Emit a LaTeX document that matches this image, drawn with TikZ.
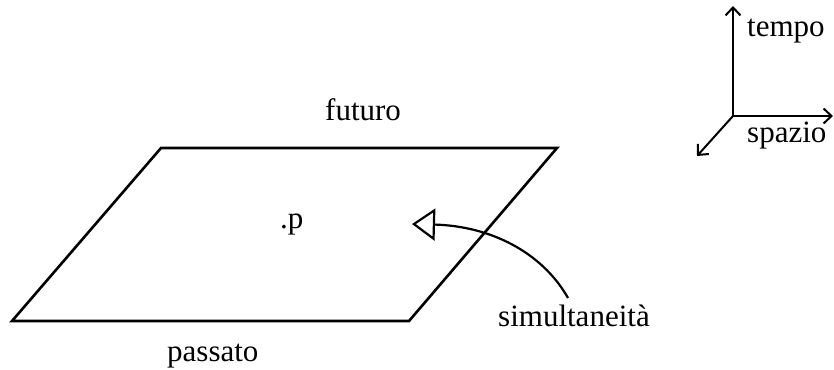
\documentclass[tikz,border=0pt]{standalone}
\usepackage{fontspec}
\setmainfont{Liberation Serif}
\usetikzlibrary{arrows.meta}
\begin{document}
\begin{tikzpicture}[x=1pt,y=-1pt,
  lbl/.style={inner sep=0pt,anchor=base west,font=\fontsize{31}{37}\selectfont},
  plane/.style={line width=2.6pt,line join=miter},
  axis/.style={line width=2pt,-{Straight Barb[length=8pt,width=15pt,line width=2pt]}},
  pointer/.style={line width=2.2pt,-{Triangle[open,length=23pt,width=32pt,line width=2.2pt]}}]
\useasboundingbox (0,0) rectangle (834,369);
% plane
\coordinate (A) at (161,148);
\coordinate (B) at (557,148);
\coordinate (C) at (409,321);
\coordinate (D) at (12,321);
\draw[plane] (A) -- (B) -- (C) -- (D) -- cycle;
% labels
\node[lbl] (fut) at (325,120) {futuro};
\node[lbl] (pas) at (167,361) {passato};
\node[lbl] (pp) at (280,228) {.p};
\node[lbl] (sim) at (498,326) {simultaneità};
% pointer
\coordinate (s) at (568,298);
\coordinate (t) at (412,224);
\draw[pointer] (s) .. controls (542,252) and (490,226) .. (t);
% axes
\coordinate (O) at (733,116);
\coordinate (T) at (733,6);
\coordinate (X) at (833,116);
\coordinate (Z) at (697,156);
\draw[axis] (O) -- (T);
\draw[axis] (O) -- (X);
\draw[axis] (O) -- (Z);
\node[lbl] (tem) at (747,37) {tempo};
\node[lbl] (spa) at (747,142) {spazio};
\end{tikzpicture}
\end{document}
